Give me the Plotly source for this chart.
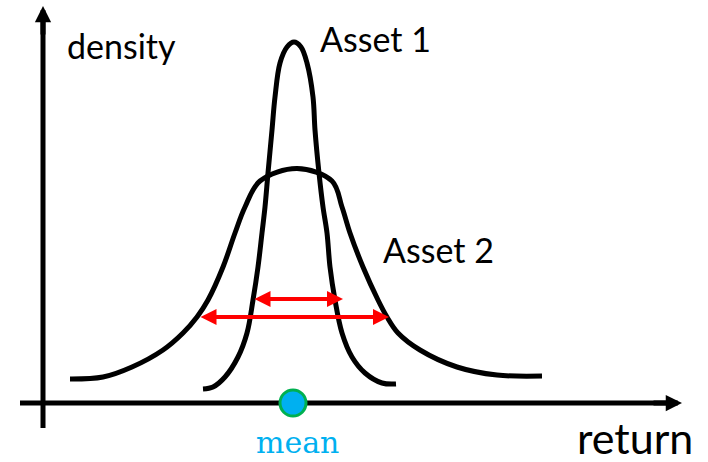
import plotly.graph_objects as go

# ---- data (x: return, mean at 0; y: density, axis at 0) ----
asset1_x = [-9.0, -8.0, -6.8, -5.5, -4.6, -4.0, -3.5, -3.1, -2.8, -2.5, -2.1, -1.8, -1.3, -0.6, 0.1,
            0.8, 1.4, 2.0, 2.2, 2.6, 3.0, 3.4, 3.7, 4.2, 4.9, 5.9, 7.2, 8.9, 10.3]
asset1_y = [1.4, 1.6, 2.6, 4.6, 7.0, 10.3, 13.6, 17.0, 19.6, 23.0, 27.3, 30.6, 34.0, 35.6, 36.1,
            35.6, 34.0, 30.6, 27.3, 23.0, 19.6, 17.0, 13.6, 10.3, 7.0, 4.6, 3.0, 2.0, 1.9]

asset2_x = [-22.3, -19.0, -16.1, -13.0, -11.0, -9.6, -8.5, -7.0, -5.8, -4.8, -3.3, 0.4,
            3.9, 4.9, 5.7, 7.0, 8.5, 9.4, 10.5, 12.7, 16.4, 20.4, 24.9]
asset2_y = [2.4, 2.6, 3.6, 5.3, 7.0, 8.6, 10.3, 13.6, 17.0, 19.6, 22.2, 23.45,
            22.2, 19.6, 17.0, 13.6, 10.3, 8.6, 7.0, 5.3, 3.6, 2.8, 2.7]

mean_x = [0.0]
mean_y = [0.0]

# spread arrows (half-height widths)
spread1 = {"y": 10.4, "x0": -4.0, "x1": 5.0}
spread2 = {"y": 8.6, "x0": -9.4, "x1": 9.6}

# axes extents
x_axis = {"y": 0.0, "x0": -27.3, "x1": 38.9}
y_axis = {"x": -25.0, "y0": -2.5, "y1": 39.7}

labels = {
    "density": (-17.15, 35.8),
    "Asset 1": (8.2, 36.5),
    "Asset 2": (14.55, 15.4),
}

fig = go.Figure()

# axis lines (as traces so the mean marker sits on top)
fig.add_trace(go.Scatter(x=[x_axis["x0"], x_axis["x1"] - 1.0], y=[x_axis["y"], x_axis["y"]],
                         mode="lines", line=dict(color="black", width=5), hoverinfo="skip"))
fig.add_trace(go.Scatter(x=[y_axis["x"], y_axis["x"]], y=[y_axis["y0"], y_axis["y1"] - 1.0],
                         mode="lines", line=dict(color="black", width=5), hoverinfo="skip"))

for xs, ys in [(asset1_x, asset1_y), (asset2_x, asset2_y)]:
    fig.add_trace(go.Scatter(x=xs, y=ys, mode="lines",
                             line=dict(color="black", width=5, shape="spline", smoothing=1.0),
                             hoverinfo="skip"))

ann = []
# axis arrowheads
ann.append(dict(x=x_axis["x1"], y=x_axis["y"], ax=x_axis["x1"] - 3.0, ay=x_axis["y"],
                xref="x", yref="y", axref="x", ayref="y", text="", showarrow=True,
                arrowhead=2, arrowsize=0.65, arrowwidth=5, arrowcolor="black"))
ann.append(dict(x=y_axis["x"], y=y_axis["y1"], ax=y_axis["x"], ay=y_axis["y1"] - 3.0,
                xref="x", yref="y", axref="x", ayref="y", text="", showarrow=True,
                arrowhead=2, arrowsize=0.65, arrowwidth=5, arrowcolor="black"))
# red double arrows
for s in (spread1, spread2):
    ann.append(dict(x=s["x1"], y=s["y"], ax=s["x0"], ay=s["y"],
                    xref="x", yref="y", axref="x", ayref="y", text="", showarrow=True,
                    arrowside="end+start", arrowhead=2, startarrowhead=2,
                    arrowsize=0.8, startarrowsize=0.8, arrowwidth=4, arrowcolor="#FF0000"))

for t, (lx, ly) in labels.items():
    ann.append(dict(x=lx, y=ly, xref="x", yref="y", text=t, showarrow=False,
                    xanchor="center", yanchor="middle",
                    font=dict(family="Lato", size=34, color="black")))
ann.append(dict(x=34.2, y=-3.4, xref="x", yref="y", text="return", showarrow=False,
                xanchor="center", yanchor="middle",
                font=dict(family="Lato", size=43, color="black")))
ann.append(dict(x=0.45, y=-5.85, xref="x", yref="y", text="mean", showarrow=False,
                xanchor="center", yanchor="bottom",
                font=dict(family="DejaVu Serif", size=30, color="#00B0F0")))

fig.add_trace(go.Scatter(x=mean_x, y=mean_y, mode="markers",
                         marker=dict(size=26, color="#00B0F0",
                                     line=dict(color="#00B050", width=3)),
                         hoverinfo="skip"))

fig.update_layout(
    width=708, height=462,
    margin=dict(l=0, r=0, t=0, b=0),
    paper_bgcolor="white", plot_bgcolor="white",
    showlegend=False,
    annotations=ann,
    xaxis=dict(range=[-29.3, 41.5], visible=False, fixedrange=True),
    yaxis=dict(range=[-5.9, 40.3], visible=False, fixedrange=True),
)

fig.write_html("out.html", config={"displayModeBar": False},
               post_script="document.body.style.margin='0px';document.body.style.padding='0px';")
